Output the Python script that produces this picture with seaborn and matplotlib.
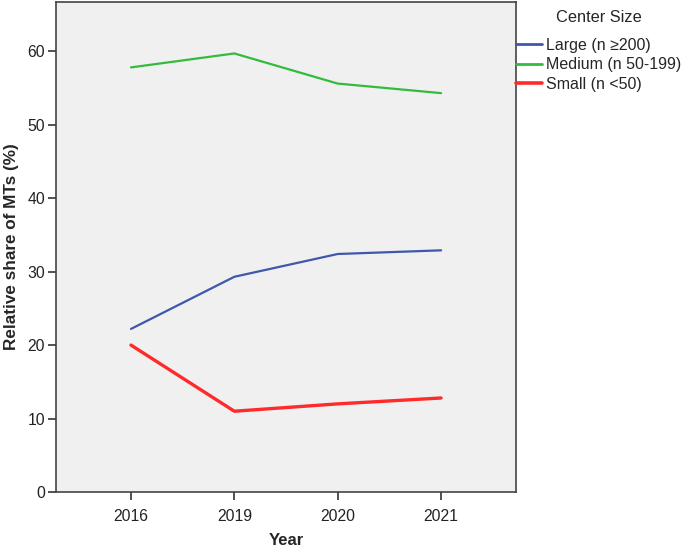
import pandas as pd
import matplotlib.pyplot as plt
import seaborn as sns

# values
years = ['2016', '2019', '2020', '2021']
large = [22.2, 29.3, 32.4, 32.9]
medium = [57.8, 59.7, 55.6, 54.3]
small = [20.0, 11.0, 12.0, 12.8]
groups = ['Large (n \u2265200)', 'Medium (n 50-199)', 'Small (n <50)']

df = pd.DataFrame({
    'Year': years * 3,
    'share': large + medium + small,
    'Center Size': [groups[0]] * 4 + [groups[1]] * 4 + [groups[2]] * 4,
})

sns.set_style('ticks')
plt.rcParams['font.family'] = ['Liberation Sans', 'DejaVu Sans']

palette = {groups[0]: '#3F58AB', groups[1]: '#33BB3D', groups[2]: '#FF2A2A'}

fig = plt.figure(figsize=(6.85, 5.47), dpi=100)
ax = fig.add_axes([0.0818, 0.1005, 0.6715, 0.8958])
ax.set_facecolor('#F0F0F0')

sns.lineplot(data=df, x='Year', y='share', hue='Center Size', palette=palette,
             linewidth=1.6, ax=ax, legend=False, sort=False)
# small line is drawn heavier in the original
ax.lines[2].set_linewidth(2.4)

ax.set_xlim(-0.725, 3.725)
ax.set_ylim(0, 66.7)
ax.set_yticks([0, 10, 20, 30, 40, 50, 60])
ax.set_xlabel('Year', fontsize=12, fontweight='bold', labelpad=7)
ax.set_ylabel('Relative share of MTs (%)', fontsize=12.3, fontweight='bold', labelpad=6)
ax.tick_params(axis='both', colors='#333333', labelsize=11.3, length=6, width=1.2)
ax.tick_params(axis='x', pad=6)
ax.tick_params(axis='y', pad=2)
ax.tick_params(axis='both', labelcolor='#222222')
for s in ax.spines.values():
    s.set_color('#444444')
    s.set_linewidth(1.2)

handles = [plt.Line2D([], [], color=palette[g], linewidth=2.0 if i < 2 else 2.6)
           for i, g in enumerate(groups)]
leg = fig.legend(handles, groups, title='Center Size', loc='upper left',
                 bbox_to_anchor=(0.754, 0.981), frameon=False, fontsize=11.5,
                 title_fontsize=11.8, handlelength=1.6, handletextpad=0.25,
                 labelspacing=0.27, borderaxespad=0, borderpad=0)
leg._legend_box.align = 'center'
leg._legend_box.sep = 9

fig.savefig('out.png', dpi=100)
